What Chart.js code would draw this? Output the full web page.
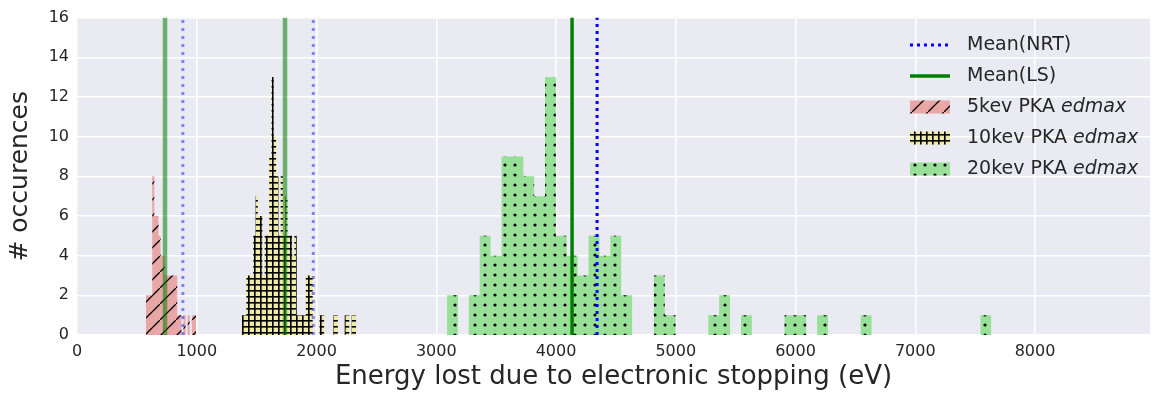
<!DOCTYPE html>
<html>
<head>
<meta charset="utf-8">
<script src="https://cdn.jsdelivr.net/npm/chart.js@4"></script>
<style>
  html, body { margin: 0; padding: 0; background: #fff; }
  #wrap { width: 1155px; height: 393px; position: relative; }
</style>
</head>
<body>
<div id="wrap"><canvas id="chartEdmax"></canvas></div>
<script>
// ----------------------------
// DATOS
// ----------------------------
const xTicks = [0, 1000, 2000, 3000, 4000, 5000, 6000, 7000, 8000];
const yTicks = [0, 2, 4, 6, 8, 10, 12, 14, 16];

// histograma 5kev: inicio del primer bin, ancho de bin (eV), cuentas
const pka5Start = 576;
const pka5Width = 17.4;
const pka5Counts = [2, 2, 2, 8, 6, 6, 5, 4, 4, 3, 3, 3, 3, 3, 3, 1, 1, 0, 1, 0, 1, 0, 1, 1, 0];

// histograma 10kev
const pka10Start = 1376;
const pka10Width = 19.1;
const pka10Counts = [1, 1, 3, 3, 3, 5, 7, 6, 6, 3, 5, 5, 9, 13, 10, 8, 5, 8, 5, 7,
                     5, 5, 4, 5, 1, 1, 1, 1, 3, 3, 3, 0, 0, 0, 1, 1, 0, 0, 0, 0,
                     1, 1, 0, 0, 0, 1, 1, 0, 1, 1];

// histograma 20kev
const pka20Start = 3090;
const pka20Width = 90.9;
const pka20Counts = [2, 0, 2, 5, 4, 9, 9, 8, 7, 13, 5, 4, 3, 5, 4, 5, 2, 0, 0, 3,
                     1, 0, 0, 0, 1, 2, 0, 1, 0, 0, 0, 1, 1, 0, 1, 0, 0, 0, 1, 0,
                     0, 0, 0, 0, 0, 0, 0, 0, 0, 1];

// medias (5kev, 10kev, 20kev)
const meanNRT = [884, 1973, 4343];
const meanLS = [735, 1737, 4134];

const FONT = "'DejaVu Sans', sans-serif";

// ----------------------------
// patrones de rayado (hatch)
// ----------------------------
function hatch(size, bg, draw) {
    const c = document.createElement("canvas");
    c.width = size; c.height = size;
    const g = c.getContext("2d");
    g.fillStyle = bg;
    g.fillRect(0, 0, size, size);
    g.strokeStyle = "#000";
    g.fillStyle = "#000";
    draw(g, size);
    return g.createPattern(c, "repeat");
}

const slashPattern = hatch(16, "#e9a6a6", (g, s) => {
    g.lineWidth = 1.3;
    g.beginPath();
    g.moveTo(-2, s + 2); g.lineTo(s + 2, -2);
    g.stroke();
});
const plusPattern = hatch(6, "#efeaa4", (g, s) => {
    g.fillRect(0, 2, s, 1.6);
    g.fillRect(2, 0, 1.6, s);
});
const dotPattern = hatch(10, "#98e098", (g, s) => {
    g.beginPath();
    g.arc(5, 5, 1.6, 0, Math.PI * 2);
    g.fill();
});

// histograma -> puntos escalonados (borde izquierdo de cada bin)
function histPoints(start, width, counts) {
    const pts = counts.map((c, i) => ({ x: start + i * width, y: c }));
    pts.push({ x: start + counts.length * width, y: 0 });
    return pts;
}

function vline(x, label, color, width, dash, showInLegend) {
    return {
        type: "line",
        label: label,
        data: [{ x: x, y: 0 }, { x: x, y: 16 }],
        borderColor: color,
        borderWidth: width,
        borderDash: dash,
        pointRadius: 0,
        fill: false,
        order: 0,
        legendShow: showInLegend
    };
}

function histSet(label, start, width, counts, pattern) {
    return {
        type: "line",
        label: label,
        data: histPoints(start, width, counts),
        stepped: "before",
        fill: "origin",
        backgroundColor: pattern,
        borderColor: "rgba(0,0,0,0)",
        borderWidth: 0,
        pointRadius: 0,
        order: 1,
        legendShow: true
    };
}

const datasets = [
    vline(meanNRT[2], "Mean(NRT)", "#0000ff", 3, [3, 4], true),
    vline(meanLS[2], "Mean(LS)", "#008000", 3.5, [], true),
    vline(meanNRT[0], "Mean(NRT)", "rgba(0,0,255,0.45)", 3, [3, 5], false),
    vline(meanNRT[1], "Mean(NRT)", "rgba(0,0,255,0.45)", 3, [3, 5], false),
    vline(meanLS[0], "Mean(LS)", "rgba(0,128,0,0.55)", 4.5, [], false),
    vline(meanLS[1], "Mean(LS)", "rgba(0,128,0,0.55)", 4.5, [], false),
    histSet("5kev PKA edmax", pka5Start, pka5Width, pka5Counts, slashPattern),
    histSet("10kev PKA edmax", pka10Start, pka10Width, pka10Counts, plusPattern),
    histSet("20kev PKA edmax", pka20Start, pka20Width, pka20Counts, dotPattern)
];

// ----------------------------
// fondo gris del area de trazado
// ----------------------------
const plotBackground = {
    id: "plotBackground",
    beforeDraw(chart) {
        const { ctx, chartArea: a } = chart;
        ctx.save();
        ctx.fillStyle = "#eaeaf2";
        ctx.fillRect(a.left, a.top, a.right - a.left, a.bottom - a.top);
        ctx.restore();
    }
};

// ----------------------------
// leyenda propia (texto en cursiva para "edmax")
// ----------------------------
const edmaxLegend = {
    id: "edmaxLegend",
    afterDraw(chart) {
        const ctx = chart.ctx;
        const items = chart.data.datasets.filter(d => d.legendShow);
        const x0 = 910, x1 = 950, tx = 967;
        let y = 45;
        ctx.save();
        items.forEach(d => {
            if (d.fill === "origin") {
                ctx.fillStyle = d.backgroundColor;
                ctx.fillRect(x0, y - 6.5, x1 - x0, 13);
            } else {
                ctx.strokeStyle = d.borderColor;
                ctx.lineWidth = d.borderWidth;
                ctx.setLineDash(d.borderDash);
                ctx.beginPath();
                ctx.moveTo(x0, y); ctx.lineTo(x1, y);
                ctx.stroke();
                ctx.setLineDash([]);
            }
            ctx.fillStyle = "#262626";
            ctx.textBaseline = "middle";
            ctx.textAlign = "left";
            const parts = d.label.split(" edmax");
            ctx.font = "19px " + FONT;
            ctx.fillText(parts[0], tx, y);
            if (parts.length > 1) {
                const w = ctx.measureText(parts[0] + " ").width;
                ctx.font = "italic 19px " + FONT;
                ctx.fillText("edmax", tx + w, y);
            }
            y += 31;
        });
        ctx.restore();
    }
};

new Chart(document.getElementById("chartEdmax"), {
    data: { datasets: datasets },
    options: {
        responsive: true,
        maintainAspectRatio: false,
        animation: false,
        layout: { padding: { left: 0, right: 5, top: 17, bottom: 0 } },
        plugins: {
            legend: { display: false },
            tooltip: { enabled: false }
        },
        scales: {
            x: {
                type: "linear",
                min: 0,
                max: 8960,
                afterBuildTicks: s => { s.ticks = xTicks.map(v => ({ value: v })); },
                afterFit: s => { s.height = 58; },
                ticks: {
                    callback: v => String(v),
                    color: "#262626",
                    font: { family: FONT, size: 16 },
                    padding: 7,
                    maxRotation: 0,
                    autoSkip: false
                },
                grid: { color: "#ffffff", lineWidth: 1.5, drawTicks: false },
                border: { display: false },
                title: {
                    display: true,
                    text: "Energy lost due to electronic stopping (eV)",
                    color: "#262626",
                    font: { family: FONT, size: 26 },
                    padding: { top: 0, bottom: 0 }
                }
            },
            y: {
                type: "linear",
                min: 0,
                max: 16,
                afterBuildTicks: s => { s.ticks = yTicks.map(v => ({ value: v })); },
                afterFit: s => { s.width = 77; },
                ticks: {
                    color: "#262626",
                    font: { family: FONT, size: 16 },
                    padding: 8
                },
                grid: { color: "#ffffff", lineWidth: 1.5, drawTicks: false },
                border: { display: false },
                title: {
                    display: true,
                    text: "# occurences",
                    color: "#262626",
                    font: { family: FONT, size: 25 },
                    padding: { top: 5, bottom: 0 }
                }
            }
        }
    },
    plugins: [plotBackground, edmaxLegend]
});
</script>
</body>
</html>
